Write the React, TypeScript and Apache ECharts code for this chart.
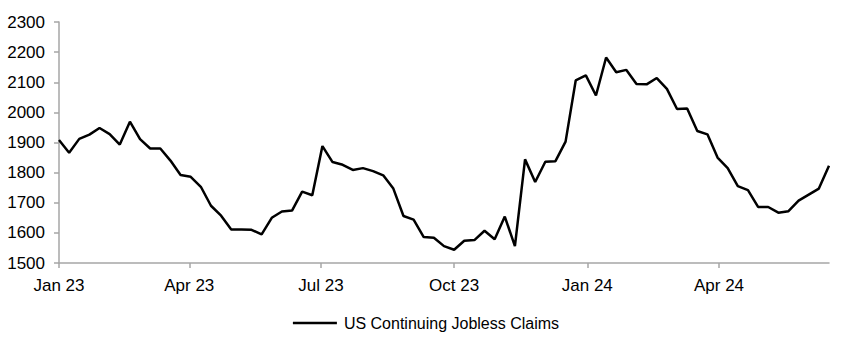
import React, { useEffect, useRef } from "react";
import * as echarts from "echarts";

const seriesName = "US Continuing Jobless Claims";
// weekly observations, first plotted week at the start of January 2023
const firstWeek = "2023-01-01";
const claims = [
  1908, 1866, 1912, 1926, 1948, 1928, 1893, 1969, 1911, 1880,
  1880, 1840, 1792, 1786, 1753, 1690, 1657, 1611, 1611, 1610,
  1595, 1650, 1671, 1674, 1737, 1725, 1888, 1835, 1826, 1809,
  1815, 1805, 1791, 1747, 1656, 1644, 1586, 1584, 1556, 1544,
  1574, 1576, 1607, 1579, 1654, 1556, 1844, 1769, 1836, 1838,
  1903, 2106, 2123, 2056, 2182, 2133, 2141, 2094, 2093, 2114,
  2078, 2011, 2013, 1938, 1927, 1850, 1815, 1755, 1742, 1686,
  1686, 1667, 1672, 1707, 1727, 1747, 1823,
];
const xTickDates = ["2023-01-01", "2023-04-01", "2023-07-01", "2023-10-01", "2024-01-01", "2024-04-01"];
const monthNames = ["Jan", "Feb", "Mar", "Apr", "May", "Jun", "Jul", "Aug", "Sep", "Oct", "Nov", "Dec"];
const yMin = 1500;
const yMax = 2300;
const yStep = 100;

const DAY = 86400000;
const toTs = (s: string) => {
  const [y, m, d] = s.split("-").map(Number);
  return Date.UTC(y, m - 1, d);
};

const FONT = "'Liberation Sans Narrow', 'Arial Narrow', 'Liberation Sans', Arial, sans-serif";

export default function App() {
  const ref = useRef<HTMLDivElement>(null);
  useEffect(() => {
    if (!ref.current) return;
    const chart = echarts.init(ref.current, null, { renderer: "svg" });
    const start = toTs(firstWeek);
    const data = claims.map((v, i) => [start + i * 7 * DAY, v]);
    const tickVals = xTickDates.map(toTs);
    chart.setOption({
      animation: false,
      textStyle: { fontFamily: FONT },
      grid: { left: 59, right: 23, top: 22, bottom: 89, containLabel: false },
      legend: {
        top: 310,
        left: "center",
        icon: "rect",
        itemWidth: 44,
        itemHeight: 2.5,
        itemGap: 10,
        textStyle: { fontFamily: FONT, fontSize: 16, color: "#000", padding: [0, 0, 0, 2] },
        data: [{ name: seriesName }],
      },
      xAxis: {
        type: "value",
        min: start,
        max: start + (claims.length - 1) * 7 * DAY,
        splitLine: { show: false },
        axisLine: { show: true, lineStyle: { color: "#a6a6a6", width: 1.5 } },
        axisTick: { show: true, length: 5, customValues: tickVals, lineStyle: { color: "#a6a6a6", width: 1.5 } },
        axisLabel: {
          customValues: tickVals,
          color: "#000",
          fontSize: 17,
          fontFamily: FONT,
          margin: 14,
          formatter: (v: number) => {
            const d = new Date(v);
            return monthNames[d.getUTCMonth()] + " " + String(d.getUTCFullYear()).slice(2);
          },
        },
      },
      yAxis: {
        type: "value",
        min: yMin,
        max: yMax,
        interval: yStep,
        splitLine: { show: false },
        axisLine: { show: true, lineStyle: { color: "#a6a6a6", width: 1.5 } },
        axisTick: { show: true, length: 5, lineStyle: { color: "#a6a6a6", width: 1.5 } },
        axisLabel: { color: "#000", fontSize: 17, fontFamily: FONT, margin: 14, formatter: (v: number) => String(v) },
      },
      series: [
        {
          name: seriesName,
          type: "line",
          data,
          symbol: "none",
          lineStyle: { color: "#000", width: 2.5 },
          itemStyle: { color: "#000" },
        },
      ],
    });
    return () => chart.dispose();
  }, []);
  return (
    <div
      ref={ref}
      style={{ position: "absolute", left: 0, top: 0, width: 852, height: 352 }}
    />
  );
}
